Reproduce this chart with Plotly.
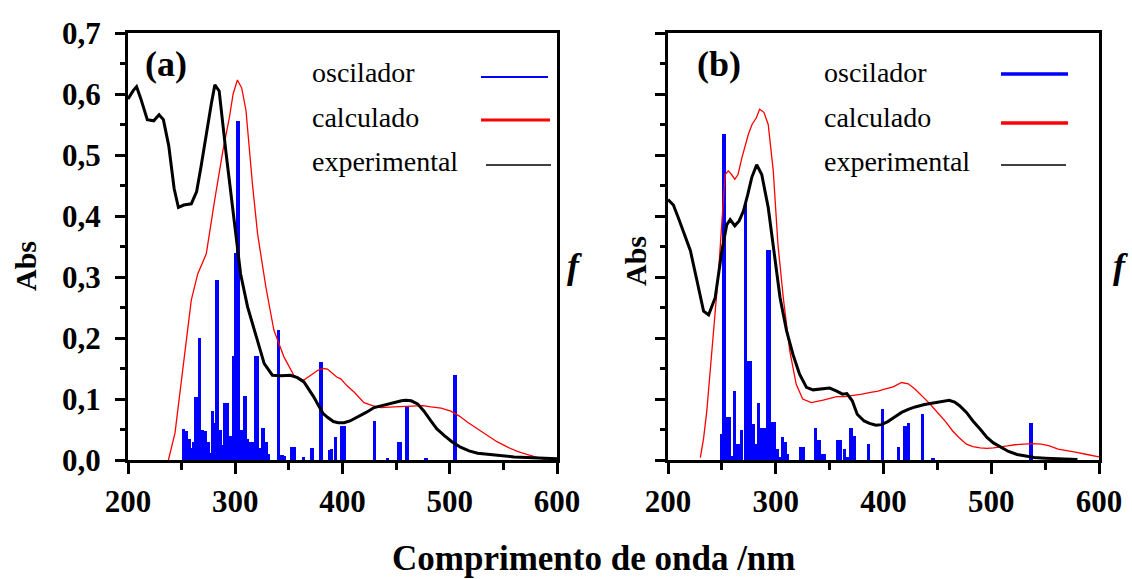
import plotly.graph_objects as go

# ---- Panel (a) ----
# experimental absorption spectrum
exp_a_nm = [200, 205, 208, 212, 218, 224, 229, 233, 238, 243, 247, 252, 259, 264, 268, 273, 277.7, 281,
            285, 291.5, 299, 305, 311.5, 320.8, 327, 334.6, 343, 351.5, 358, 364, 368, 373, 378, 382,
            386, 391.5, 396, 401.5, 407, 414, 422, 429.5, 440, 448, 455, 459, 464, 470, 476, 482.4,
            488, 495, 502, 510, 518, 526, 537, 548, 560, 572, 585, 597.5, 600]
exp_a_abs = [0.592, 0.606, 0.612, 0.592, 0.558, 0.556, 0.566, 0.558, 0.515, 0.445, 0.414, 0.418, 0.42,
             0.44, 0.48, 0.535, 0.584, 0.615, 0.605, 0.502, 0.393, 0.305, 0.251, 0.196, 0.158, 0.139,
             0.138, 0.139, 0.135, 0.128, 0.118, 0.104, 0.088, 0.076, 0.07, 0.063, 0.061, 0.061, 0.064,
             0.07, 0.078, 0.086, 0.091, 0.094, 0.097, 0.098, 0.097, 0.092, 0.08, 0.064, 0.051, 0.04,
             0.03, 0.021, 0.015, 0.011, 0.009, 0.007, 0.005, 0.004, 0.003, 0.002, 0.002]

# calculated (convoluted) spectrum
calc_a_nm = [237.7, 240, 243.8, 247, 251.5, 255, 259, 265, 273, 280.8, 288.5, 294.6, 298, 302, 306, 310,
             316, 320.8, 328.5, 336, 345.4, 354.6, 360, 364, 368, 372, 377, 382, 386, 390, 394.6,
             398.4, 404, 411, 420, 428, 435.8, 448, 458, 467, 475, 482.4, 492, 501, 509, 516.6, 525,
             535, 544, 554, 563, 572.6, 580, 585, 590]
calc_a_abs = [0.0, 0.015, 0.044, 0.09, 0.153, 0.21, 0.262, 0.305, 0.338, 0.426, 0.507, 0.562, 0.6, 0.623,
              0.61, 0.573, 0.453, 0.371, 0.284, 0.213, 0.169, 0.139, 0.133, 0.131, 0.136, 0.142, 0.147,
              0.15, 0.149, 0.143, 0.136, 0.133, 0.122, 0.111, 0.094, 0.089, 0.086, 0.087, 0.088, 0.089,
              0.089, 0.087, 0.085, 0.08, 0.072, 0.062, 0.052, 0.04, 0.03, 0.021, 0.014, 0.009, 0.005,
              0.003, 0.0]

# oscillator strengths (wavelength, f)
osc_a_nm = [252, 254.5, 257, 259.5, 261.5, 263.5, 266.5, 269.5, 272, 274.5, 276.5, 279, 281, 283, 286,
            288, 290, 292.5, 295, 297, 298.8, 300, 302.5, 305.5, 307, 309, 311.5, 314, 316.5, 319, 321,
            323.5, 326, 328.5, 331, 340.5, 343.5, 346, 352.5, 355, 363.5, 371.5, 380, 388, 390, 393.5,
            399, 401.5, 430, 442, 452, 454, 460, 478, 505]
osc_a_f = [0.051, 0.048, 0.035, 0.02, 0.03, 0.104, 0.2, 0.05, 0.048, 0.03, 0.012, 0.08, 0.06, 0.295, 0.05,
           0.025, 0.094, 0.094, 0.04, 0.04, 0.17, 0.34, 0.556, 0.05, 0.045, 0.105, 0.035, 0.03, 0.03,
           0.17, 0.17, 0.02, 0.052, 0.03, 0.01, 0.213, 0.008, 0.006, 0.022, 0.022, 0.005, 0.019, 0.16,
           0.016, 0.018, 0.038, 0.055, 0.055, 0.064, 0.004, 0.03, 0.03, 0.088, 0.004, 0.139]

# ---- Panel (b) ----
exp_b_nm = [200, 205, 210, 215, 220.8, 227, 233, 237.7, 243.8, 250, 254.6, 257.7, 262, 266, 270, 274,
            277.7, 282.3, 287, 293, 297.7, 304, 310, 316, 322, 328.5, 334.6, 342, 350, 356.6, 362, 366,
            371, 375.6, 382, 387, 393, 398, 404, 410, 416.8, 423, 429.4, 438, 448.4, 455, 461, 466,
            470.6, 477, 483, 490, 496, 502, 508.5, 516, 524, 532, 540, 550, 562, 575, 580]
exp_b_abs = [0.427, 0.418, 0.395, 0.37, 0.343, 0.293, 0.244, 0.238, 0.266, 0.343, 0.386, 0.394, 0.384,
             0.392, 0.408, 0.435, 0.463, 0.484, 0.468, 0.414, 0.354, 0.266, 0.212, 0.173, 0.141, 0.119,
             0.115, 0.116, 0.118, 0.113, 0.108, 0.109, 0.097, 0.075, 0.064, 0.06, 0.057, 0.058, 0.063,
             0.07, 0.078, 0.083, 0.087, 0.091, 0.094, 0.097, 0.098, 0.095, 0.089, 0.078, 0.064, 0.05,
             0.037, 0.028, 0.021, 0.014, 0.009, 0.006, 0.004, 0.003, 0.002, 0.001, 0.001]

calc_b_nm = [230, 233, 236, 239, 242, 245, 247, 250, 253, 256, 259, 262, 265, 268.5, 271.5, 274.6, 278,
             282, 285, 289, 293, 297.7, 302, 307, 313, 319, 325, 333, 344, 356.6, 364, 372.5, 380, 388,
             395, 401, 409, 416.8, 423, 429.4, 436, 442, 446, 451.6, 458, 464, 470, 477, 483, 489.6,
             496, 502, 508, 515, 522, 530.7, 538, 546.5, 554, 562, 570, 578, 589, 600]
calc_b_abs = [0.004, 0.035, 0.08, 0.14, 0.2, 0.27, 0.31, 0.39, 0.468, 0.474, 0.468, 0.46, 0.468, 0.495,
              0.515, 0.534, 0.55, 0.561, 0.575, 0.57, 0.55, 0.474, 0.354, 0.266, 0.179, 0.124, 0.1, 0.094,
              0.098, 0.104, 0.104, 0.106, 0.108, 0.111, 0.113, 0.116, 0.12, 0.127, 0.125, 0.116, 0.105,
              0.094, 0.086, 0.075, 0.062, 0.048, 0.037, 0.026, 0.022, 0.02, 0.019, 0.02, 0.021, 0.023,
              0.025, 0.026, 0.027, 0.026, 0.023, 0.018, 0.016, 0.013, 0.009, 0.005]

osc_b_nm = [249.5, 251.8, 254.5, 256.5, 258.5, 261.5, 263.8, 266, 268.2, 272, 274.3, 276.5, 279, 281.3,
            283.8, 286, 288.2, 290, 292.3, 294.3, 296.8, 299, 301.2, 303.3, 306.5, 308.5, 311, 323.5,
            326, 337, 340, 342, 345.2, 357.5, 360, 364, 366, 370, 372.5, 386, 399, 414, 420, 423, 436,
            446, 537]
osc_b_f = [0.043, 0.535, 0.07, 0.07, 0.007, 0.113, 0.026, 0.026, 0.05, 0.419, 0.163, 0.163, 0.059, 0.026,
           0.094, 0.053, 0.053, 0.053, 0.345, 0.345, 0.062, 0.062, 0.018, 0.005, 0.037, 0.03, 0.01,
           0.021, 0.021, 0.053, 0.032, 0.01, 0.01, 0.032, 0.032, 0.018, 0.005, 0.053, 0.04, 0.027,
           0.083, 0.021, 0.056, 0.06, 0.076, 0.004, 0.06]

# axis ticks
x_ticks = [200, 300, 400, 500, 600]
y_ticks = [0.0, 0.1, 0.2, 0.3, 0.4, 0.5, 0.6, 0.7]

series_names = ["oscilador", "calculado", "experimental"]
panel_labels = ["(a)", "(b)"]

SERIF = "Liberation Serif, Times New Roman, serif"
W, H = 1132, 579

fig = go.Figure()

panels = [
    ("x", "y", osc_a_nm, osc_a_f, calc_a_nm, calc_a_abs, exp_a_nm, exp_a_abs),
    ("x2", "y2", osc_b_nm, osc_b_f, calc_b_nm, calc_b_abs, exp_b_nm, exp_b_abs),
]
for xa, ya, onm, of, cnm, cab, enm, eab in panels:
    fig.add_trace(go.Bar(x=onm, y=of, width=3.2, marker=dict(color="#0000ff", line=dict(width=0)),
                         xaxis=xa, yaxis=ya, showlegend=False, hoverinfo="x+y"))
    fig.add_trace(go.Scatter(x=cnm, y=cab, mode="lines", line=dict(color="#ff0000", width=1.3),
                             xaxis=xa, yaxis=ya, showlegend=False))
    fig.add_trace(go.Scatter(x=enm, y=eab, mode="lines", line=dict(color="#000000", width=3),
                             xaxis=xa, yaxis=ya, showlegend=False))

tick_font = dict(family=SERIF, size=31, color="black", weight="bold")


def xaxis_cfg(domain, anchor):
    return dict(domain=domain, anchor=anchor, range=[200, 600], tickvals=x_ticks,
                ticks="outside", ticklen=11, tickwidth=2.5, tickcolor="black",
                minor=dict(ticks="outside", ticklen=7, tickwidth=2.5, tickcolor="black", dtick=50,
                           tick0=200, showgrid=False),
                showline=True, linecolor="black", linewidth=3, mirror=True, automargin=False,
                showgrid=False, zeroline=False, tickfont=tick_font, ticklabelstandoff=1)


def yaxis_cfg(anchor, labels):
    return dict(domain=[(H - 460) / H, (H - 33) / H], anchor=anchor, range=[0, 0.7],
                tickvals=y_ticks, tickformat=".1f", showticklabels=labels,
                ticks="outside", ticklen=10, tickwidth=2.5, tickcolor="black",
                minor=dict(ticks="outside", ticklen=5, tickwidth=2.5, tickcolor="black", dtick=0.05,
                           tick0=0, showgrid=False),
                showline=True, linecolor="black", linewidth=3, mirror=True, automargin=False,
                showgrid=False, zeroline=False, tickfont=tick_font, ticklabelstandoff=8)


fig.update_layout(
    width=W, height=H, margin=dict(l=0, r=0, t=0, b=0, autoexpand=False),
    paper_bgcolor="white", plot_bgcolor="white",
    separators=",.", barmode="overlay", bargap=0,
    xaxis=xaxis_cfg([128 / W, 557 / W], "y"),
    yaxis=yaxis_cfg("x", True),
    xaxis2=xaxis_cfg([668 / W, 1099 / W], "y2"),
    yaxis2=yaxis_cfg("x2", False),
)


def px(xp):
    return xp / W


def py(yp):
    return 1 - yp / H


def label(text, xc, yc, size, bold=True, angle=0, xanchor="center"):
    font = dict(family=SERIF, size=size, color="black")
    if bold:
        font["weight"] = "bold"
    return dict(text=text, x=px(xc), y=py(yc), xref="paper", yref="paper", showarrow=False,
                xanchor=xanchor, yanchor="middle", textangle=angle, font=font)


annotations = []
# panel letters
for text, xc in zip(panel_labels, [166, 719]):
    annotations.append(label(text, xc, 64, 36))

# legend entries: text on the left, line sample on the right
legend_colors = ["#0000ff", "#ff0000", "#000000"]
legend_rows = [73, 117, 161]
legend_text_x = [310, 822]
legend_line = [
    [(481, 548, 77, 2.2), (481, 550, 120, 3.2), (486, 551, 165, 1.6)],
    [(1001, 1068, 74, 3.6), (1001, 1068, 123, 3.6), (1001, 1066, 165, 1.6)],
]
shapes = []
for p in range(2):
    for i, name in enumerate(series_names):
        annotations.append(label(name, legend_text_x[p], legend_rows[i], 28, bold=False,
                                 xanchor="left"))
        x0, x1, yl, lw = legend_line[p][i]
        shapes.append(dict(type="line", xref="paper", yref="paper", x0=px(x0), x1=px(x1),
                           y0=py(yl), y1=py(yl), line=dict(color=legend_colors[i], width=lw)))

# y titles ("Abs") and right-hand oscillator-strength symbols
for xc, yc in [(25, 266), (635, 261)]:
    annotations.append(label("Abs", xc, yc, 30, angle=-90))
for xc, yc in [(575, 266), (1120, 266)]:
    annotations.append(label("<i>f</i>", xc, yc, 36))
# common x title
annotations.append(label("Comprimento de onda /nm", 594, 558, 35))

fig.update_layout(annotations=annotations, shapes=shapes)

fig.write_html("out.html")
